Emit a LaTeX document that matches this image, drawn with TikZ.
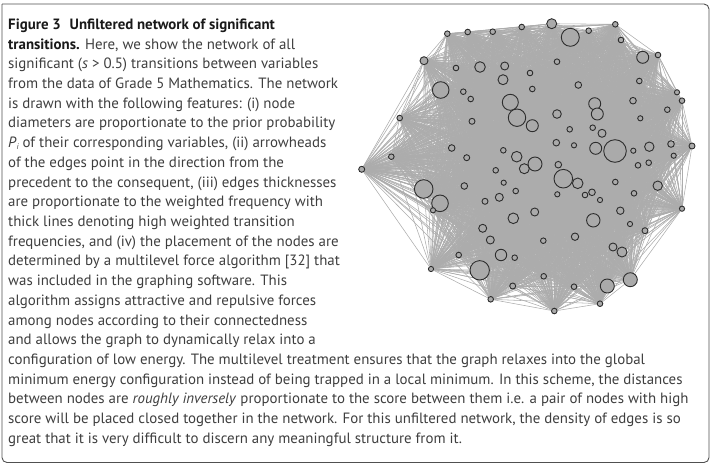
\documentclass[tikz,border=0pt]{standalone}
\usepackage{fontspec}
\setmainfont{PT Sans}
\pgfdeclarelayer{bg}
\pgfsetlayers{bg,main}
\definecolor{edgegray}{RGB}{172,172,172}
\definecolor{nodefill}{RGB}{170,170,170}
\definecolor{nodeline}{RGB}{45,45,45}
\definecolor{txt}{RGB}{62,62,62}
\definecolor{framec}{RGB}{80,80,80}
\tikzset{
  nd/.style={circle,inner sep=0pt,draw=nodeline,fill=nodefill,line width=0.9pt},
  edge/.style={draw=edgegray,line width=0.55pt},
  capline/.style={anchor=base west,inner sep=0pt,text=txt,font=\fontsize{14.9}{19.7}\selectfont},
  frame/.style={draw=framec,line width=0.9pt}
}
\begin{document}
\begin{tikzpicture}[x=1pt,y=-1pt]
\useasboundingbox (0,0) rectangle (711,466);
\draw[frame,rounded corners=5pt] (2,4) -- (709,4) -- (709,462.5) -- (2,462.5) -- (2,4);
% nodes
\foreach \px/\py/\r [count=\i] in {
447.3/33.7/2.8, 467.7/32/2.8, 492.7/31.7/2.8, 521.7/27/2.8, 551.7/23.7/5, 570.3/37.3/9,
588.7/30.7/2.8, 615.3/24.3/2.8, 621/40/2.8, 642.7/57.3/6, 658/55/2.8, 424/60.7/4,
456/68/2.8, 480/67/5.3, 504.7/66/4, 503/79.7/5, 530/73/2.8, 557/61.7/2.8,
440.7/90/8.3, 463.3/91.7/2.8, 470.7/99/2.8, 532.3/89/2.8, 578.3/85/3.3, 639.3/81/2.8,
677/92.3/2.6, 682/100.7/2.8, 633/100.7/3.3, 667.3/109.7/2.8, 510.3/102.3/8, 517/117.7/8.7,
532.3/125.7/6, 594.7/103.7/6, 597.3/114/6, 557/114/4.3, 399.7/118/2.8, 472/121.3/3,
640.3/118.3/2.6, 569.7/129.3/2.8, 592.7/127.7/2.8, 602/133.3/4, 451.7/148/3.3, 503.3/150.3/2.8,
556.3/142.7/3.3, 574/145.3/2.6, 595.7/148.3/6, 615/151/11.3, 633.3/150.7/2.6, 649.3/146.7/4.7,
671/144/3.3, 692/146/3, 391.3/156.7/2.8, 466.7/157.7/3, 516.7/156.7/5.3, 535/164/7,
524.3/168.7/5, 495.7/170.3/2.8, 558.3/164.7/3.3, 673.7/155.7/2.6, 648.7/162.7/2.8, 638/165.3/2.8,
423.7/189/9.3, 440/203.3/8.3, 464.3/186/3.3, 503.7/182.7/2.6, 563.3/178.7/9.3, 577.7/183.3/5.3,
615.3/182/2.8, 657.7/185.7/4.7, 499.3/197.3/4, 515.7/191/2.8, 485/201.3/3, 557.3/194.3/2.6,
585/195/2.8, 592/192.3/3.3, 600/200/2.6, 634/193.3/2.8, 433/210.3/2.6, 682/208.7/2.6,
534.7/212/4, 513.3/218.3/5.3, 593.3/220.3/6.7, 620.3/210.7/3.7, 482.7/228.3/4, 630/224/2.6,
645/230.7/3, 490.3/240/4, 543.3/240.7/2.8, 575/236.7/3.7, 613/247/4, 622/252/5,
458.7/255/2.8, 501/255/5.7, 514.7/257.7/2.8, 431/269/2.6, 479.7/270.3/9.7, 543.7/276.3/2.8,
512.7/286/3, 574/286.7/2.8, 607.3/286/7, 630.3/279.7/7, 490.7/299.3/2.8, 554.3/311/2.8,
600/303.7/2.8, 361.7/169.3/3}
  \node[nd,minimum size=2*\r pt] (n\i) at (\px,\py) {};
% edges
\begin{pgfonlayer}{bg}
\foreach \i in {1,...,103}{
  \pgfmathtruncatemacro\nxt{\i+1}
  \foreach \j in {\nxt,...,104}{\draw[edge] (n\i) -- (n\j);}
}
\end{pgfonlayer}
% caption text
\foreach \t [count=\k] in {
{\textbf{\color{black!90}Figure 3\hspace{0.6em}Unfiltered network of significant}},
{\textbf{\color{black!90}transitions.} Here, we show the network of all},
{significant (\textit{s} > 0.5) transitions between variables},
{from the data of Grade 5 Mathematics. The network},
{is drawn with the following features: (i) node},
{diameters are proportionate to the prior probability},
{\textit{P}\raisebox{-0.3ex}{\footnotesize\itshape i} of their corresponding variables, (ii) arrowheads},
{of the edges point in the direction from the},
{precedent to the consequent, (iii) edges thicknesses},
{are proportionate to the weighted frequency with},
{thick lines denoting high weighted transition},
{frequencies, and (iv) the placement of the nodes are},
{determined by a multilevel force algorithm [32] that},
{was included in the graphing software. This},
{algorithm assigns attractive and repulsive forces},
{among nodes according to their connectedness},
{and allows the graph to dynamically relax into a},
{configuration of low energy. The multilevel treatment ensures that the graph relaxes into the global},
{minimum energy configuration instead of being trapped in a local minimum. In this scheme, the distances},
{between nodes are \textit{roughly inversely} proportionate to the score between them i.e. a pair of nodes with high},
{score will be placed closed together in the network. For this unfiltered network, the density of edges is so},
{great that it is very difficult to discern any meaningful structure from it.}}
  \node[capline] (line\k) at (8,{29.3+(\k-1)*19.72}) {\t};
\end{tikzpicture}
\end{document}
